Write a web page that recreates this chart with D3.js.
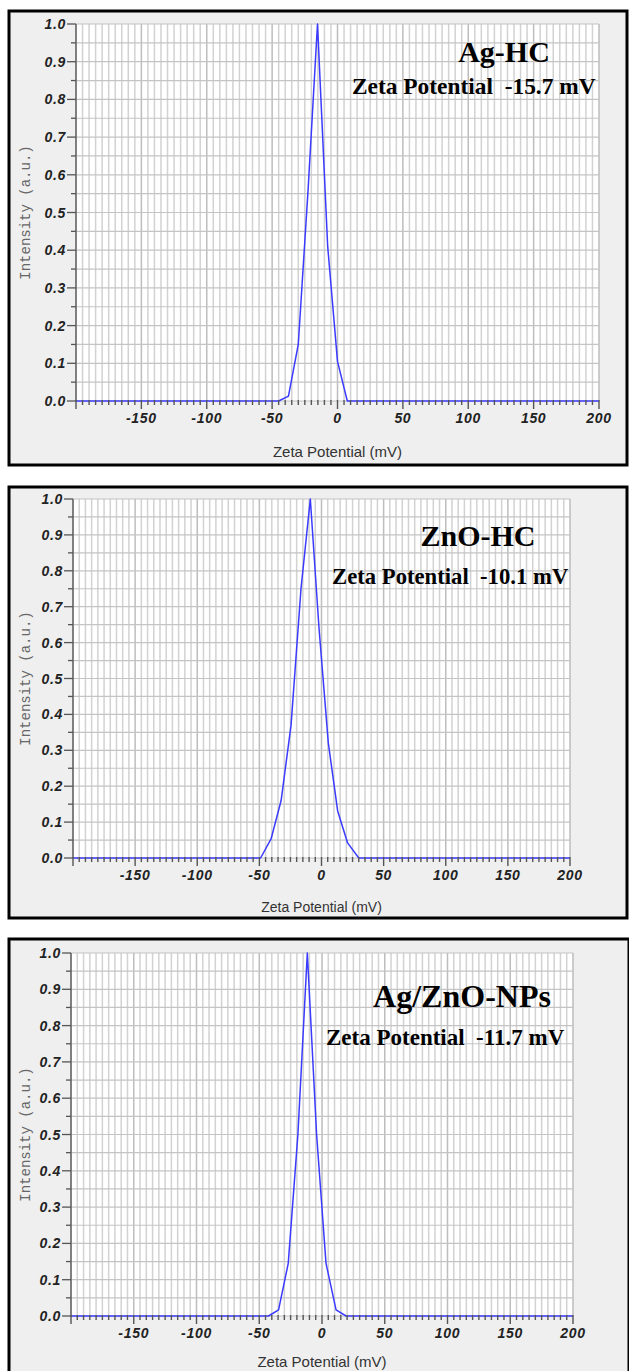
<!DOCTYPE html>
<html>
<head>
<meta charset="utf-8">
<script src="https://cdn.jsdelivr.net/npm/d3@7"></script>
<style>
  body { margin: 0; background: #fff; }
  svg { display: block; }
</style>
</head>
<body>
<script>
// data
var xDomain = [-200, 200];
var yDomain = [0, 1];
var xTickLabels = [-150, -100, -50, 0, 50, 100, 150, 200];
var yTickLabels = [0, 0.1, 0.2, 0.3, 0.4, 0.5, 0.6, 0.7, 0.8, 0.9, 1.0];

var sampleNames = ['Ag-HC', 'ZnO-HC', 'Ag/ZnO-NPs'];
var zetaValues = ['-15.7', '-10.1', '-11.7'];

var agHC_mV = [-200, -45, -37.5, -30, -22.5, -15.3, -7.5, 0, 7.5, 200];
var agHC_int = [0, 0, 0.013, 0.15, 0.56, 1.0, 0.41, 0.105, 0, 0];

var znoHC_mV = [-200, -49, -40.6, -32.5, -24.5, -16.5, -9, -2, 5.5, 13, 21, 30, 200];
var znoHC_int = [0, 0, 0.053, 0.16, 0.37, 0.75, 1.0, 0.64, 0.32, 0.131, 0.042, 0, 0];

var agZnO_mV = [-200, -42.6, -34.6, -26.9, -19.2, -11.7, -4.3, 3.2, 11.2, 19.2, 200];
var agZnO_int = [0, 0, 0.017, 0.145, 0.5, 1.0, 0.5, 0.145, 0.017, 0, 0];

var seriesX = [agHC_mV, znoHC_mV, agZnO_mV];
var seriesY = [agHC_int, znoHC_int, agZnO_int];

// layout of each panel (box = outer frame, plot = inner grid area)
var panels = [
  {box: [9, 11, 618, 454], plot: [76, 599, 24, 401], title: [504, 62, 30], zeta: [352, 94, 23.4], xlab: [457, 15]},
  {box: [9, 487, 618, 431], plot: [73, 570, 499, 858], title: [478, 546, 30], zeta: [332, 584, 22.7], xlab: [912, 14]},
  {box: [9, 939, 620, 450], plot: [71, 573, 953, 1316], title: [462, 1007, 32], zeta: [326, 1045, 23], xlab: [1367, 15]}
];

var W = 629, H = 1371;
var svg = d3.select('body').append('svg').attr('width', W).attr('height', H);

panels.forEach(function(p, i) {
  var g = svg.append('g');
  var x = d3.scaleLinear().domain(xDomain).range([p.plot[0], p.plot[1]]);
  var y = d3.scaleLinear().domain(yDomain).range([p.plot[3], p.plot[2]]);

  // frame
  g.append('rect')
    .attr('x', p.box[0]).attr('y', p.box[1])
    .attr('width', p.box[2]).attr('height', p.box[3])
    .attr('fill', '#efefef').attr('stroke', '#000').attr('stroke-width', 3);

  // plot area
  g.append('rect')
    .attr('x', x(xDomain[0])).attr('y', y(yDomain[1]))
    .attr('width', x(xDomain[1]) - x(xDomain[0])).attr('height', y(yDomain[0]) - y(yDomain[1]))
    .attr('fill', '#fff');

  // grid
  g.selectAll('vgrid').data(d3.range(-200, 201, 5)).enter().append('line')
    .attr('x1', d => x(d)).attr('x2', d => x(d))
    .attr('y1', y(0)).attr('y2', y(1))
    .attr('stroke', d => d % 50 == 0 ? '#bdbdbd' : '#d2d2d2').attr('stroke-width', 1.5);
  g.selectAll('hgrid').data(d3.range(0, 21).map(k => k / 20)).enter().append('line')
    .attr('x1', x(-200)).attr('x2', x(200))
    .attr('y1', d => y(d)).attr('y2', d => y(d))
    .attr('stroke', '#c4c4c4').attr('stroke-width', 1.2);

  // data line
  var line = d3.line().x(d => x(d[0])).y(d => y(d[1]));
  var pts = seriesX[i].map((v, k) => [v, seriesY[i][k]]);
  g.append('path').datum(pts)
    .attr('d', line)
    .attr('fill', 'none').attr('stroke', '#3b3bff').attr('stroke-width', 1.5)
    .attr('stroke-linejoin', 'round');

  // y axis line + ticks
  g.append('line')
    .attr('x1', x(-200)).attr('x2', x(-200)).attr('y1', y(0)).attr('y2', y(1))
    .attr('stroke', '#666').attr('stroke-width', 1.5);
  g.selectAll('yticks').data(d3.range(0, 21).map(k => k / 20)).enter().append('line')
    .attr('x1', d => x(-200) - (Math.round(d * 20) % 2 == 0 ? 9 : 5)).attr('x2', x(-200))
    .attr('y1', d => y(d)).attr('y2', d => y(d))
    .attr('stroke', '#555').attr('stroke-width', 1.3);

  // x ticks (drawn over the zero line)
  g.selectAll('xticks').data(d3.range(-200, 201, 5)).enter().append('line')
    .attr('x1', d => x(d)).attr('x2', d => x(d))
    .attr('y1', y(0) - 1).attr('y2', d => y(0) + (d % 50 == 0 ? 8 : 4))
    .attr('stroke', '#555').attr('stroke-width', 1.4);

  // tick labels
  g.selectAll('ylab').data(yTickLabels).enter().append('text')
    .attr('x', x(-200) - 10).attr('y', d => y(d)).attr('dy', '0.36em')
    .attr('text-anchor', 'end')
    .style('font', 'italic bold 14px "Liberation Sans", Arial, sans-serif')
    .style('letter-spacing', '0.7px')
    .attr('fill', '#222')
    .text(d => d.toFixed(1));
  g.selectAll('xlab').data(xTickLabels).enter().append('text')
    .attr('x', d => x(d)).attr('y', y(0) + 22)
    .attr('text-anchor', 'middle')
    .style('font', 'italic bold 14px "Liberation Sans", Arial, sans-serif')
    .style('letter-spacing', '0.7px')
    .attr('fill', '#222')
    .text(d => d);

  // axis titles
  g.append('text')
    .attr('x', (x(-200) + x(200)) / 2).attr('y', p.xlab[0])
    .attr('text-anchor', 'middle')
    .style('font', p.xlab[1] + 'px "Liberation Sans", Arial, sans-serif')
    .attr('fill', '#333')
    .text('Zeta Potential (mV)');
  g.append('text')
    .attr('transform', 'translate(' + (p.box[0] + 21) + ',' + ((y(0) + y(1)) / 2) + ') rotate(-90)')
    .attr('text-anchor', 'middle')
    .style('font', '14px "Liberation Mono", "DejaVu Sans Mono", monospace')
    .attr('fill', '#666')
    .text('Intensity (a.u.)');

  // annotations
  g.append('text')
    .attr('x', p.title[0]).attr('y', p.title[1])
    .attr('text-anchor', 'middle')
    .style('font', 'bold ' + p.title[2] + 'px "Liberation Serif", "Times New Roman", serif')
    .attr('fill', '#000')
    .text(sampleNames[i]);
  g.append('text')
    .attr('x', p.zeta[0]).attr('y', p.zeta[1])
    .style('font', 'bold ' + p.zeta[2] + 'px "Liberation Serif", "Times New Roman", serif')
    .style('white-space', 'pre')
    .attr('fill', '#000')
    .text('Zeta Potential  ' + zetaValues[i] + ' mV');
});
</script>
</body>
</html>
